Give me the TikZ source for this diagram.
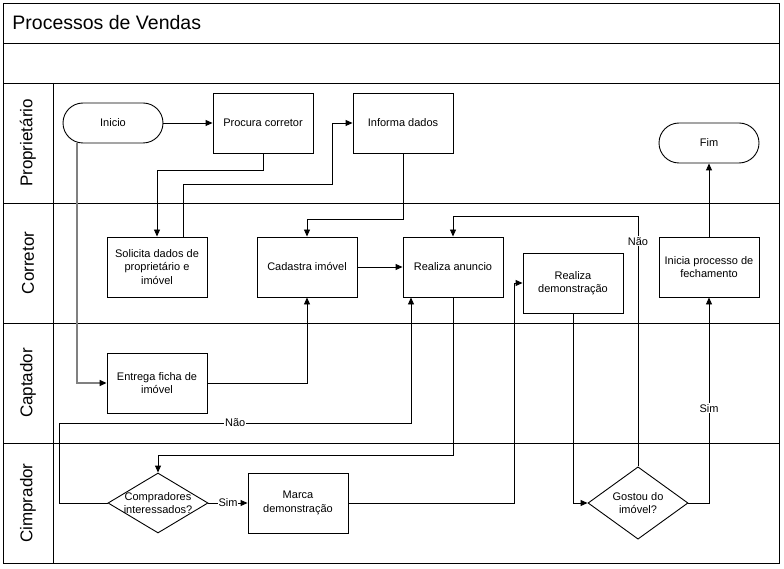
\documentclass[tikz,border=0pt]{standalone}
\usepackage{fontspec}
\setmainfont{Liberation Sans}
\usetikzlibrary{shapes.geometric,arrows.meta}
\begin{document}
\begin{tikzpicture}[x=1pt, y=-1pt, line width=0.9pt,
  box/.style = {shape=rectangle, draw, align=center,
    minimum width=100pt, minimum height=60pt,
    font=\fontsize{11}{13.5}\selectfont},
  term/.style = {box, rounded corners=20pt, minimum height=40pt},
  decision/.style = {shape=diamond, draw, align=center, inner sep=0pt,
    minimum width=100pt, minimum height=60pt,
    font=\fontsize{11}{13.5}\selectfont},
  lanelabel/.style = {rotate=90, font=\fontsize{17}{20}\selectfont},
  conn/.style = {-{Triangle[length=7pt,width=6pt]}},
  lbl/.style = {fill=white, inner sep=1pt, font=\fontsize{11}{13}\selectfont}]
  \useasboundingbox (0,0) rectangle (784,569);
  % lanes
  \draw (3,3) rectangle (779,563);
  \foreach \y in {43,83,203,323,443}
    \draw (3,\y) -- (779,\y);
  \draw (53,83) -- (53,563);
  \node[anchor=west, inner sep=0pt, font=\fontsize{19.5}{22}\selectfont] (title) at (12,23) {Processos de Vendas};
  \foreach \lane/\y in {Proprietário/143, Corretor/263, Captador/383, Cimprador/503}
    \node[lanelabel] (lane\y) at (28,\y) {\lane};
  % steps
  \node[term] (inicio) at (113,123) {Inicio};
  \node[box] (procura) at (263,123) {Procura corretor};
  \node[box] (informa) at (403,123) {Informa dados};
  \node[term] (fim) at (709,143) {Fim};
  \node[box] (solicita) at (157,267) {Solicita dados de\\proprietário e\\imóvel};
  \node[box] (cadastra) at (307,267) {Cadastra imóvel};
  \node[box] (anuncio) at (453,267) {Realiza anuncio};
  \node[box] (demonstracao) at (573,283) {Realiza\\demonstração};
  \node[box] (inicia) at (709,267) {Inicia processo de\\fechamento};
  \node[box] (entrega) at (157,383) {Entrega ficha de\\imóvel};
  \node[decision] (compradores) at (158,503) {\makebox[0pt]{Compradores}\\\makebox[0pt]{interessados?}};
  \node[box] (marca) at (298,503) {Marca\\demonstração};
  \node[decision] (gostou) at (638,503) {Gostou do\\imóvel?};
  % flow
  \draw[conn] (inicio) -- (procura);
  \draw[conn] (procura.south) -- ++(0,17) -| (solicita.north);
  \draw[conn] ([xshift=26pt]solicita.north) -- ++(0,-52) -| ([xshift=-20pt]informa.west) -- (informa.west);
  \draw[conn] (informa.south) -- ++(0,66) -| (cadastra.north);
  \draw[conn] (cadastra) -- (anuncio);
  \draw[conn, gray, line width=1.5pt, -{Triangle[length=7pt,width=6pt,color=black]}] ([xshift=-36pt]inicio.south) |- (entrega.west);
  \draw[conn] (entrega.east) -| (cadastra.south);
  \draw[conn] (compradores.west) -- ++(-48,0) -- ++(0,-80) -| node[lbl, pos=0.25] {Não} ([xshift=-42pt]anuncio.south);
  \draw[conn] (anuncio.south) -- ++(0,158) -| (compradores.north);
  \draw[conn] (compradores) -- node[lbl] {Sim} (marca);
  \draw[conn] (marca.east) -- ++(166,0) |- (demonstracao.west);
  \draw[conn] (demonstracao.south) |- (gostou.west);
  \draw[conn] (gostou.north) -- node[lbl, pos=0.9] {Não} ++(0,-250) -| (anuncio.north);
  \draw[conn] (gostou.east) -| node[lbl, pos=0.73] {Sim} (inicia.south);
  \draw[conn] (inicia) -- (fim);
\end{tikzpicture}
\end{document}
